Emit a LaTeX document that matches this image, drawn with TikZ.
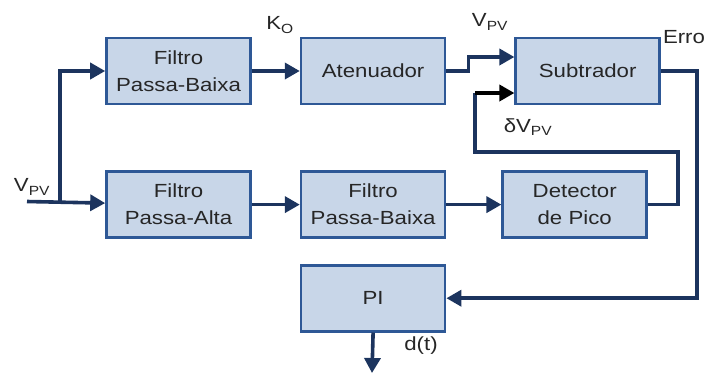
\documentclass[tikz,border=0pt]{standalone}
\usepackage{fontspec}
\setmainfont{Liberation Sans}[FakeStretch=1.17]
\usetikzlibrary{arrows.meta,positioning}

\definecolor{boxfill}{RGB}{200,214,232}
\definecolor{boxline}{RGB}{46,88,150}
\definecolor{wirecol}{RGB}{28,52,94}
\definecolor{ink}{RGB}{38,38,38}

\begin{document}
\begin{tikzpicture}[
  x=1pt, y=-1pt,
  >={Triangle[length=15pt,width=16pt]},
  every node/.style={font=\fontsize{19}{27}\selectfont, text=ink},
  block/.style={
    draw=boxline,
    fill=boxfill,
    line width=2.6pt,
    minimum width=144pt,
    minimum height=66pt,
    inner sep=0pt,
    align=center
  },
  wire/.style={draw=wirecol, line width=3.6pt}
]
  \useasboundingbox (0,0) rectangle (708,373);

  % upper branch
  \node[block] (lpfa) at (178.5,71) {Filtro\\Passa-Baixa};
  \node[block,right=48pt of lpfa] (aten) {Atenuador};
  \node[block,right=68pt of aten] (sub) {Subtrador};

  % lower branch
  \node[block,below=65pt of lpfa] (hpf) {Filtro\\Passa-Alta};
  \node[block,right=48pt of hpf] (lpfb) {Filtro\\Passa-Baixa};
  \node[block,right=55pt of lpfb] (peak) {Detector\\de Pico};
  \node[block,below=25pt of lpfb] (pi) {PI};

  % signal names
  \node (vin) at (32,187) {V\textsubscript{PV}};
  \node (ko) at (280,25) {K\textsubscript{O}};
  \node (vpv) at (490,22) {V\textsubscript{PV}};
  \node (dvpv) at (528,127) {δV\textsubscript{PV}};
  \node (erro) at (684,37) {Erro};
  \node (dt) at (421,346) {d(t)};

  \coordinate (src) at (27,201.5);
  \coordinate (split) at (60,201.5);
  \coordinate (fbk) at (475,152);
  \coordinate (fbin) at (475,93);
  \coordinate (dout) at (372,373);

  \draw[wire,->] (src) -- (hpf);
  \draw[wire,->] (split) |- (lpfa);
  \draw[wire,->] (lpfa) -- (aten);
  \draw[wire,->] (aten.east) -- ++(22,0) |- ([yshift=14pt]sub.west);
  \draw[wire,->] (hpf) -- (lpfb);
  \draw[wire,->] (lpfb) -- (peak);
  \draw[wire] (peak.east) -- ++(30,0) |- (fbk) -- (fbin);
  \draw[wire,draw=black,->] (fbin) -- (fbin -| sub.west);
  \draw[wire,->] (sub.east) -- ++(36,0) |- (pi.east);
  \draw[wire,->] (pi.south) -- (dout);
\end{tikzpicture}
\end{document}
